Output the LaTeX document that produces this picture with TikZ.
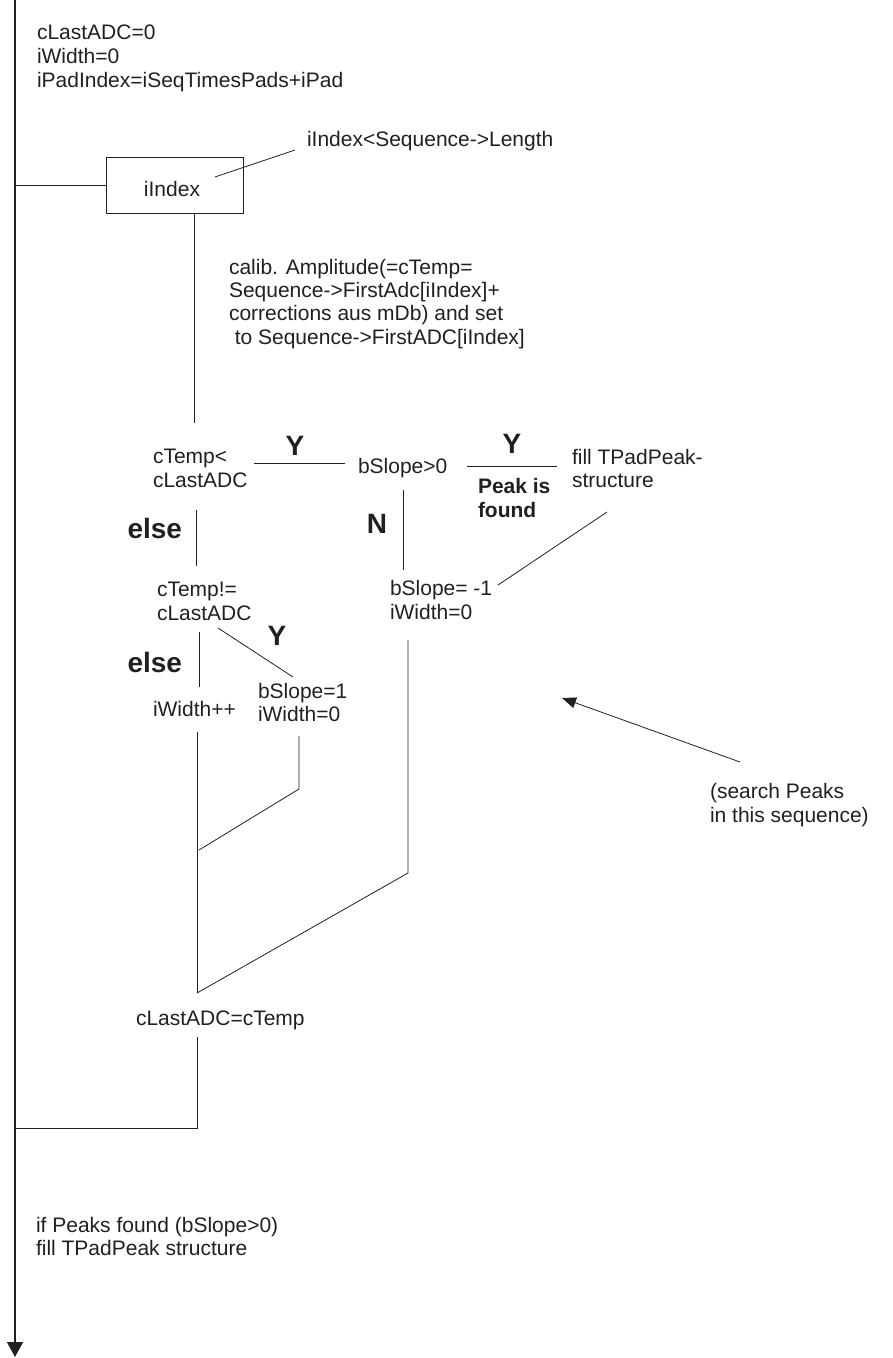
\documentclass[tikz,border=0pt]{standalone}
\usepackage{fontspec}
\setmainfont{Liberation Sans}
\usetikzlibrary{arrows.meta}
\definecolor{ink}{RGB}{35,31,32}
\begin{document}
\begin{tikzpicture}[x=1pt,y=-1pt,
  every node/.style={inner sep=0pt, outer sep=0pt, text=ink},
  txt/.style={anchor=base west, align=left, font=\fontsize{21}{24}\selectfont},
  lbl/.style={anchor=base, font=\fontsize{28}{30}\selectfont\bfseries},
  bld/.style={anchor=base west, align=left, font=\fontsize{21}{24}\selectfont\bfseries},
  conn/.style={draw=ink, line width=0.8pt},
  mainline/.style={draw=ink, line width=1.2pt}]
\useasboundingbox (0,0) rectangle (893,1358);
% main loop line
\coordinate (top) at (15,0);
\coordinate (bot) at (15,1357);
\draw[mainline, -{Triangle[width=16pt,length=15pt]}] (top) -- (bot);

% (base anchor of a multi-line node = baseline of its last line)
\node[txt] (init) at (37,87) {cLastADC=0\\iWidth=0\\iPadIndex=iSeqTimesPads+iPad};

\node[draw=ink, line width=0.8pt, minimum width=137pt, minimum height=56pt] (box) at (174.5,185) {};
\node[txt, anchor=base] (boxlbl) at (172,196) {iIndex};
\coordinate (loopL) at (15,185);
\draw[conn] (loopL) -- (box.west);

\node[txt] (cond) at (307,146) {iIndex<Sequence->Length};
\coordinate (c1) at (295,150);
\coordinate (c2) at (215,177);
\draw[conn] (c1) -- (c2);

\coordinate (b1) at (194,213);
\coordinate (b2) at (194,423);
\draw[conn] (b1) -- (b2);

\node[txt, font=\fontsize{21}{23.3}\selectfont] (calib) at (229,344) {calib. Amplitude(=cTemp=\\Sequence->FirstAdc[iIndex]+\\corrections aus mDb) and set\\\hspace*{5.8pt}to Sequence->FirstADC[iIndex]};

% first decision
\node[txt] (ct1) at (153,487) {cTemp<\\cLastADC};
\coordinate (y1a) at (254,463);
\coordinate (y1b) at (345,463);
\draw[conn] (y1a) -- (y1b);
\node[lbl] (Y1) at (295,455) {Y};

\node[txt] (bs) at (358,473) {bSlope>0};
\coordinate (y2a) at (467,466);
\coordinate (y2b) at (557,466);
\draw[conn] (y2a) -- (y2b);
\node[lbl] (Y2) at (512,453) {Y};
\node[bld] (peak) at (478,517) {Peak is\\found};
\node[txt, font=\fontsize{21}{23}\selectfont] (fill) at (572,487) {fill TPadPeak-\\structure};
\coordinate (f1) at (607,512);
\coordinate (f2) at (498,585);
\draw[conn] (f1) -- (f2);

\node[lbl] (N) at (377,533) {N};
\coordinate (n1) at (403,490);
\coordinate (n2) at (403,570);
\draw[conn] (n1) -- (n2);
\node[txt] (bsm) at (390,619) {bSlope= -1\\iWidth=0};

\node[lbl, anchor=base east] (else1) at (182,538) {else};
\coordinate (e1a) at (196,510);
\coordinate (e1b) at (196,566);
\draw[conn] (e1a) -- (e1b);

\node[txt] (ct2) at (157,620) {cTemp!=\\cLastADC};
\coordinate (e2a) at (199,632);
\coordinate (e2b) at (199,687);
\draw[conn] (e2a) -- (e2b);
\coordinate (d1) at (218,628);
\coordinate (d2) at (293,677);
\draw[conn] (d1) -- (d2);
\node[lbl] (Y3) at (277,645) {Y};
\node[lbl, anchor=base east] (else2) at (182,672) {else};

\node[txt, font=\fontsize{21}{23}\selectfont] (bs1) at (258,721) {bSlope=1\\iWidth=0};
\node[txt] (iw) at (153,716) {iWidth++};

% merging lines
\coordinate (m1) at (197,732);
\coordinate (m2) at (197,993);
\draw[conn] (m1) -- (m2);
\coordinate (s1) at (299,736);
\coordinate (s2) at (299,789);
\coordinate (s3) at (199,850);
\draw[conn] (s1) -- (s2) -- (s3);
\coordinate (r1) at (408,640);
\coordinate (r2) at (408,873);
\draw[conn] (r1) -- (r2) -- (m2);

\node[txt] (cl) at (136,1025) {cLastADC=cTemp};
\coordinate (l1) at (197,1037);
\coordinate (l2) at (197,1128);
\coordinate (l3) at (15,1128);
\draw[conn] (l1) -- (l2) -- (l3);

% search note
\coordinate (a1) at (740,762);
\coordinate (a2) at (562,698);
\draw[conn, -{Triangle[width=11pt,length=14pt]}] (a1) -- (a2);
\node[txt] (search) at (710,822) {(search Peaks\\in this sequence)};

\node[txt, font=\fontsize{21}{23}\selectfont] (final) at (36,1255) {if Peaks found (bSlope>0)\\fill TPadPeak structure};
\end{tikzpicture}
\end{document}
